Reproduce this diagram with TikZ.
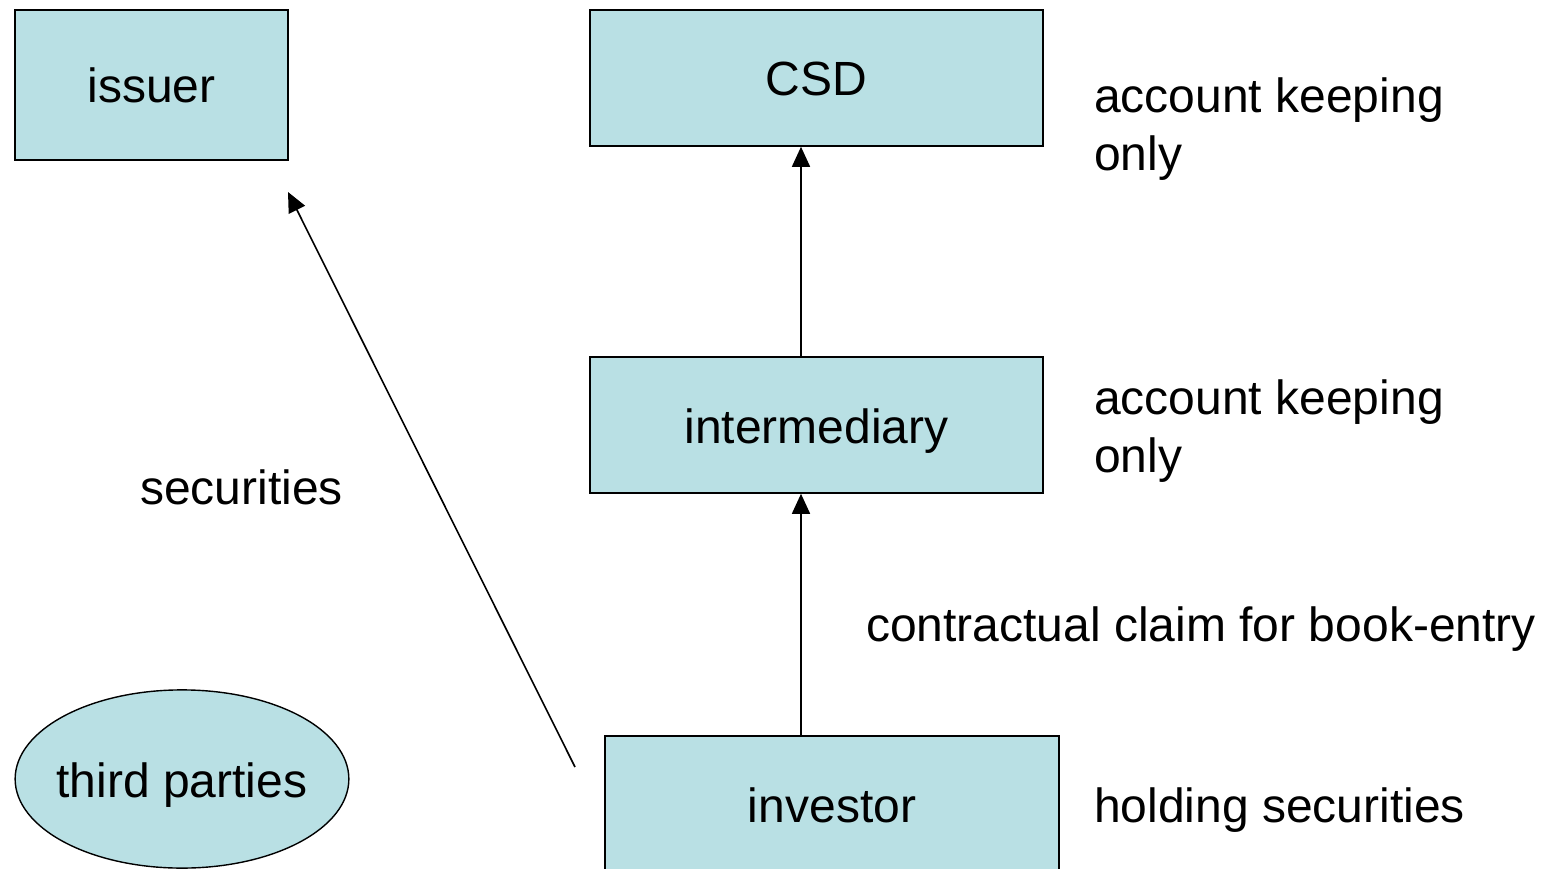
\documentclass[tikz,border=0pt]{standalone}
\usepackage{fontspec}
\setmainfont{Liberation Sans}
\usetikzlibrary{arrows.meta,shapes.geometric}
\definecolor{boxfill}{RGB}{185,224,228}
\begin{document}
\begin{tikzpicture}[x=1pt,y=-1pt,
  every node/.style={font=\fontsize{48}{58}\selectfont, inner sep=0pt},
  entity/.style={draw=black, line width=1.6pt, fill=boxfill, rectangle,
    text height=46pt, text depth=10pt},
  party/.style={draw=black, line width=1.4pt, fill=boxfill, ellipse,
    inner xsep=-7.4pt, inner ysep=35pt, text height=46pt, text depth=10pt},
  note/.style={anchor=base west, align=left},
  link/.style={line width=1.6pt, -{Triangle[length=20pt,width=18pt]}}]
  \useasboundingbox (0,0) rectangle (1541,869);
  \begin{scope}
  \clip (0,0) rectangle (1541,869);
  % boxes
  \node[entity, minimum width=273pt, minimum height=150pt] (issuer) at (151.5,85) {issuer};
  \node[entity, minimum width=453pt, minimum height=136pt] (csd) at (816.5,78) {CSD};
  \node[entity, minimum width=453pt, minimum height=136pt] (inter) at (816.5,425) {intermediary};
  \node[entity, minimum width=454pt, minimum height=136pt] (investor) at (832,804) {investor};
  \node[party] (third) at (182,779) {third parties};
  % connectors
  \draw[link] (inter.north -| 801,0) -- (csd.south -| 801,0);
  \draw[link] (investor.north -| 801,0) -- (inter.south -| 801,0);
  \coordinate (flowstart) at (575,767);
  \coordinate (flowend) at (288,192);
  \draw[link] (flowstart) -- (flowend);
  % annotations (base = baseline of the last line)
  \node[note] (n1) at (1094,171) {account keeping\\only};
  \node[note] (n2) at (1094,472) {account keeping\\only};
  \node[note] (n3) at (866,641) {contractual claim for book-entry};
  \node[note] (n4) at (1094,822) {holding securities};
  \node[note] (n5) at (140,504) {securities};
  \end{scope}
\end{tikzpicture}
\end{document}
